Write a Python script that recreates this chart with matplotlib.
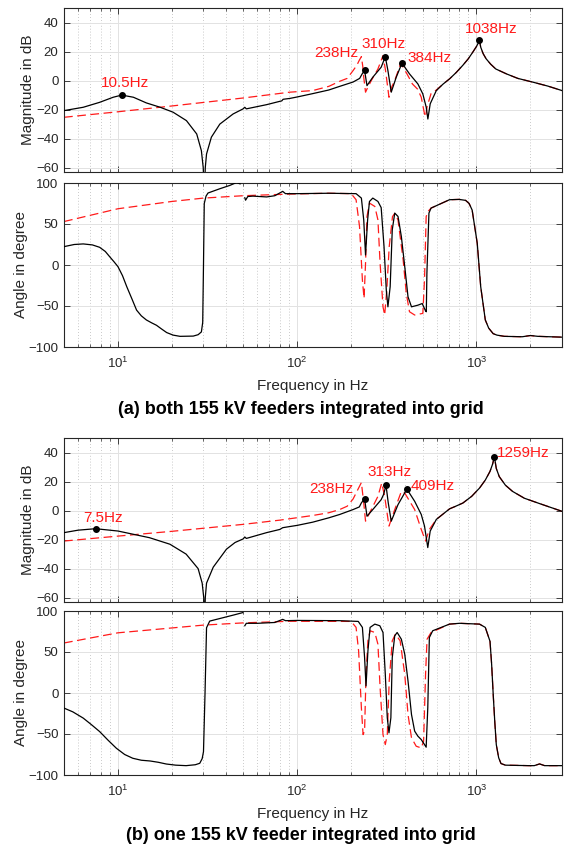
import numpy as np
import matplotlib
matplotlib.use("Agg")
import matplotlib.pyplot as plt
from matplotlib.ticker import LogLocator, NullFormatter

plt.rcParams['font.family'] = ['Liberation Sans', 'DejaVu Sans']

nan = np.nan

# ---------------- (a) both feeders ----------------
fa_mag_k = [5, 6.4, 7.9, 9.4, 10.5, 12.2, 14.4, 17.2, 20.3, 24.1, 27.5, 29.2, 29.9, 30.3, 30.7,
            31.2, 33.2, 37, 43.9, 49.9, 51, 52, 67.5, 80, 82, 83.4, 91, 100, 122, 150,
            172.5, 205, 223, 230, 237.6, 245, 264, 294, 310, 320.6, 334.6, 356.8, 384, 423, 471,
            502, 524.5, 535.6, 552, 597, 650, 708, 770, 839, 900, 953, 1000, 1020, 1038, 1056,
            1090, 1132, 1200, 1281, 1470, 1700, 2080, 2500, 3000]
mag_a_k = [-20.7, -18.4, -15, -11.5, -10, -11.5, -15.4, -18.4, -21.8, -27.6, -36.8, -48.3, -60, -80, -60,
           -50.6, -39, -30, -23, -19.5, -18.4, -19.5, -16.6, -14.3, -14, -12.9, -12.3, -11.3, -9, -6.5,
           -4, -1, 1.5, 4.5, 7, -3.5, 2.3, 9.2, 16.4, 6.9, -8, 2.3, 12, 4.6, -2.3,
           -9.2, -18.4, -26.5, -16, -6.9, -2.5, 1.2, 5.5, 10.5, 15, 19.5, 23.5, 25.5, 28, 23,
           18.5, 15, 11.3, 8, 4.6, 1.5, -1.2, -3.8, -6.9]

fa_mag_r = [5, 10, 20, 50, 91, 122, 150, 172.5, 190, 205, 215, 222, 228, 232, 235,
            240.5, 248, 259, 282, 301, 311, 325, 335, 350, 378, 410, 439, 470, 492, 513,
            520, 530, 558, 597, 650, 708, 770, 839, 900, 953, 1000, 1020, 1038, 1056, 1090,
            1132, 1200, 1281, 1470, 1700, 2080, 2500, 3000]
mag_a_r = [-25.3, -21.5, -17.5, -12, -8, -6.9, -4, -0.5, 1.5, 6.9, 10.5, 14, 16.5, 10, 2.3,
           -8, -4.5, 0, 8, 17.2, 6.9, -11.5, -5, 0, 12, 4.5, -2.3, -6, -11.5, -23,
           -25, -18, -9, -6.5, -2.5, 1.2, 5.5, 10.5, 15, 19.5, 23.5, 25.5, 28, 23, 18.5,
           15, 11.3, 8, 4.6, 1.5, -1.2, -3.8, -6.9]

fa_ph_k = [5, 5.7, 6.4, 7.2, 7.9, 8.5, 9, 9.5, 10, 10.6, 11.2, 12, 12.7, 13.5, 14.4,
           15.4, 16.4, 17.5, 18.7, 20.3, 22.2, 26.3, 28, 29.2, 29.7, 30, 30.3, 31, 31.8, 37,
           42, 45.8, 48, 50, 51, 51.5, 53, 56.6, 67.5, 75, 83, 86, 100, 150, 213,
           228, 235, 240.5, 247, 253, 264, 282, 294, 305, 314, 320.6, 330, 339, 350, 365,
           381, 398, 415, 434, 471, 498, 520, 525, 529, 543, 558, 707, 800, 870, 910,
           946, 1010, 1056, 1120, 1170, 1239, 1300, 1430, 1800, 2000, 2200, 3000]
ph_a_k = [22.4, 25, 25.7, 24.5, 21.6, 16.5, 10, 4, -2, -13, -26.5, -42, -55, -62, -67,
          -70.5, -73.5, -78, -82.4, -85.5, -87, -86.7, -85, -81.6, -70, 0, 75, 84, 87.8, 93,
          97, 100.5, 99, nan, 82, 79, 83.5, 84, 83, 84.5, 89.8, 87, 87, 87.5, 87,
          81.6, 55, 12.2, 55, 77.5, 81.6, 77.5, 70, 22.4, -30.6, -51, -26.5, 42.9, 63.3, 59.2,
          34.7, -2, -38.8, -51, -49, -47, -56, -57, -10, 63.3, 69.4, 79.6, 80, 78.8, 75,
          67, 26.5, -26.5, -67, -77, -83.7, -85.5, -87, -87.5, -86, -87, -88]

fa_ph_r = [5, 10, 20, 30, 50, 91, 150, 200, 213, 222.6, 231, 236, 240.5, 245, 253,
           271, 282, 290, 301, 307.5, 316, 326, 340, 350, 365, 390, 406, 423, 452, 502,
           513, 524, 535, 558, 707, 800, 870, 910, 946, 1010, 1056, 1120, 1170, 1239, 1300,
           1430, 1800, 2000, 2200, 3000]
ph_a_r = [53, 68.6, 77.5, 81.6, 84.5, 86.5, 87.5, 87, 79.6, 47, -18.4, -40.8, 2, 59, 75.5,
          71.4, 55, 2, -51, -61, -30.6, 22.4, 59, 63, 55, 6, -34.7, -57, -61, -59,
          -18, 59, 65, 69.4, 79.6, 80, 78.8, 75, 67, 26.5, -26.5, -67, -77, -83.7, -85.5,
          -87, -87.5, -86, -87, -88]

res_a_f = [10.5, 238, 310, 384, 1038]
res_a_v = [-10.0, 7.0, 16.4, 12.0, 28.0]
res_a_lbl = ['10.5Hz', '238Hz', '310Hz', '384Hz', '1038Hz']

# ---------------- (b) one feeder ----------------
fb_mag_k = [5, 6, 7.5, 10, 15, 19.5, 24, 28, 29.5, 30.1, 30.4, 30.7, 31.2, 34, 40.3,
            45, 50, 51, 52, 67.5, 80, 83, 91, 100, 122, 150, 172.5, 205, 222, 228,
            237.6, 245, 264, 294, 303, 313, 322, 334.6, 365, 409, 452, 492, 513, 535, 552,
            597, 708, 760, 840, 940, 1040, 1120, 1190, 1230, 1259, 1290, 1340, 1450, 1590, 1850,
            2250, 3000]
mag_b_k = [-15.2, -13.5, -12.5, -14.1, -18.7, -23.2, -30, -40, -50, -60, -80, -60, -50, -39, -26.6,
           -22, -19.5, -18.2, -19.2, -15.2, -13, -11.8, -11, -10.2, -8, -5, -2.7, 0.7, 2.5, 5.3,
           8.2, -3.9, 0.7, 7.5, 11, 17.3, 5.3, -7.3, 4.1, 14.8, 6.4, -2.7, -10.7, -25.5, -14.1,
           -6.1, 1.2, 2.8, 5.2, 9.8, 15.5, 21, 27, 32, 37, 29, 23.4, 17.5, 13.2, 8.5,
           4.8, -0.5]

fb_mag_r = [5, 10, 20, 50, 80, 122, 150, 172.5, 190, 205, 220, 228, 235, 240.5, 259,
            282, 296, 307.5, 325, 350, 381, 398, 452, 492, 520, 546, 597, 708, 760, 840,
            940, 1040, 1120, 1190, 1230, 1259, 1290, 1340, 1450, 1590, 1850, 2250, 3000]
mag_b_r = [-21, -17.6, -14.3, -9.5, -6.6, -3.4, -1.5, 0.7, 3, 8, 15.5, 19.3, 5.3, -7.3, 0.7,
           9.8, 18.9, 9.8, -10.7, 0.7, 13.2, 12.1, 0.7, -13, -21, -13, -6.1, 1.2, 2.8, 5.2,
           9.8, 15.5, 21, 27, 32, 37, 29, 23.4, 17.5, 13.2, 8.5, 4.8, -0.5]

fb_ph_k = [5, 5.6, 6.4, 7.1, 7.9, 8.8, 9.8, 10.9, 12.1, 13.5, 15.1, 16.8, 18.6, 21, 24,
           27, 28.6, 29.5, 30, 30.6, 31.2, 32.5, 44, 49.6, 50, 51, 52, 60, 75, 83,
           86, 100, 172.5, 219, 231, 237.6, 242, 248, 255, 271, 289, 301, 310, 318, 325,
           333, 339, 350, 361, 381, 398, 415, 434, 452, 471, 492, 513, 524, 535, 546,
           570, 707, 805, 1040, 1120, 1190, 1215, 1240, 1265, 1290, 1330, 1370, 1450, 1960, 2100,
           2250, 2400, 3000]
ph_b_k = [-18.4, -23, -30.6, -38.5, -47, -57.5, -67.4, -75, -79.6, -82, -82.9, -84.5, -86.6, -88, -88.6,
          -87.5, -85.7, -80, -71.5, 0, 79.6, 87.7, 95, 98, nan, 82, 85, 85, 86, 89.8,
          88.2, 88.5, 88.2, 87.3, 80, 43.2, 8.6, 51.4, 80, 84, 82, 73.8, 22.8, -30.2, -48.6,
          -30.2, 43.2, 69.8, 73.8, 65.6, 47.3, 14.7, -26.2, -46.5, -52.6, -56.8, -62.9, -66.1, -18, 67.7,
          75.9, 84, 85, 84, 80, 63, 35, -2, -35, -63, -79, -86, -88, -88.6, -88.6,
          -86.5, -88.6, -88.6]

fb_ph_r = [5, 10, 30, 50, 91, 200, 213, 220, 228, 233, 237.6, 242, 248, 255, 271,
           282, 290, 301, 310, 318, 326, 339, 353, 375, 398, 415, 434, 461, 492, 507,
           520, 530, 558, 707, 805, 1040, 1120, 1190, 1215, 1240, 1265, 1290, 1330, 1370, 1450,
           1960, 2100, 2250, 2400, 3000]
ph_b_r = [61, 73.4, 82.8, 85.5, 87.5, 87.3, 80, 51.4, -18, -50.7, -46.5, 22.8, 63.7, 75.9, 73.8,
          59.5, 6.5, -50.7, -62.9, -50.7, 14.7, 63.7, 71.8, 63.7, 22.8, -26.2, -54.7, -64.9, -67, -58.8,
          22.8, 65.6, 73.8, 84, 85, 84, 80, 63, 35, -2, -35, -63, -79, -86, -88,
          -88.6, -88.6, -86.5, -88.6, -88.6]

res_b_f = [7.5, 238, 313, 409, 1259]
res_b_v = [-12.5, 8.2, 17.3, 14.8, 37.0]
res_b_lbl = ['7.5Hz', '238Hz', '313Hz', '409Hz', '1259Hz']

titles = ['(a) both 155 kV feeders integrated into grid',
          '(b) one 155 kV feeder integrated into grid']

# ---------------- drawing ----------------
W, H = 567, 848
fig = plt.figure(figsize=(W / 100, H / 100), dpi=100)

def rect(top, bottom, left=64, right=562):
    return [left / W, 1 - bottom / H, (right - left) / W, (bottom - top) / H]

TXT = '#262626'

def style(ax, ylim, yticks, xlabels):
    ax.set_xscale('log')
    ax.set_xlim(5, 3000)
    ax.set_ylim(*ylim)
    ax.set_yticks(yticks)
    ax.xaxis.set_major_locator(LogLocator(base=10))
    ax.xaxis.set_minor_locator(LogLocator(base=10, subs=np.arange(2, 10)))
    ax.xaxis.set_minor_formatter(NullFormatter())
    ax.set_axisbelow(True)
    ax.grid(True, which='major', color='#e2e2e2', lw=0.7, ls='-')
    ax.grid(True, which='minor', axis='x', color='#b8b8b8', lw=0.6, ls=(0, (1, 2.5)))
    ax.tick_params(which='both', direction='in', top=True, right=True, colors=TXT,
                   labelsize=9.5, labelcolor=TXT)
    ax.tick_params(which='major', length=4, width=0.6, pad=4)
    ax.tick_params(which='minor', length=2, width=0.5)
    ax.tick_params(axis='x', pad=6)
    if not xlabels:
        ax.tick_params(axis='x', labelbottom=False)
    for s in ax.spines.values():
        s.set_color(TXT)
        s.set_linewidth(0.8)

red_ls = (0, (7, 3.6))

def mag_panel(ax, fk, vk, fr, vr, rf, rv, rl, offs):
    ax.plot(fr, vr, color='#ff1a1a', lw=0.9, ls=red_ls, zorder=2)
    ax.plot(fk, vk, color='black', lw=0.9, zorder=3)
    ax.plot(rf, rv, 'o', color='black', ms=4, zorder=4)
    for f, v, l, (dx, dy) in zip(rf, rv, rl, offs):
        ax.annotate(l, xy=(f, v), xytext=(dx, dy), textcoords='offset pixels',
                    ha='center', va='center', color='#ff1a1a', fontsize=11, zorder=5)
    style(ax, (-63, 50), [-60, -40, -20, 0, 20, 40], False)

def ph_panel(ax, fk, vk, fr, vr):
    ax.plot(fr, vr, color='#ff1a1a', lw=0.9, ls=red_ls, zorder=2)
    ax.plot(fk, vk, color='black', lw=0.9, zorder=3)
    style(ax, (-100, 100), [-100, -50, 0, 50, 100], True)

offs_a = [(3, 12), (-28, 17), (-2, 13), (28, 5), (12, 11)]
offs_b = [(7, 11), (-33, 10), (3, 13), (26, 3), (29, 4)]

ax1 = fig.add_axes(rect(8, 172))
mag_panel(ax1, fa_mag_k, mag_a_k, fa_mag_r, mag_a_r, res_a_f, res_a_v, res_a_lbl, offs_a)
ax2 = fig.add_axes(rect(183, 347))
ph_panel(ax2, fa_ph_k, ph_a_k, fa_ph_r, ph_a_r)
ax3 = fig.add_axes(rect(438, 602))
mag_panel(ax3, fb_mag_k, mag_b_k, fb_mag_r, mag_b_r, res_b_f, res_b_v, res_b_lbl, offs_b)
ax4 = fig.add_axes(rect(611, 775))
ph_panel(ax4, fb_ph_k, ph_b_k, fb_ph_r, ph_b_r)

def ftext(x, y, s, **kw):
    fig.text(x / W, 1 - y / H, s, ha='center', va='center', color=kw.pop('color', TXT), **kw)

ftext(28, 90, 'Magnitude in dB', rotation=90, fontsize=11)
ftext(21, 265, 'Angle in degree', rotation=90, fontsize=11)
ftext(28, 520, 'Magnitude in dB', rotation=90, fontsize=11)
ftext(21, 693, 'Angle in degree', rotation=90, fontsize=11)
ftext(313, 386, 'Frequency in Hz', fontsize=11)
ftext(313, 814, 'Frequency in Hz', fontsize=11)
ftext(301, 410, titles[0], fontsize=13, fontweight='bold', color='black')
ftext(301, 836, titles[1], fontsize=13, fontweight='bold', color='black')

fig.savefig('out.png', dpi=100)
